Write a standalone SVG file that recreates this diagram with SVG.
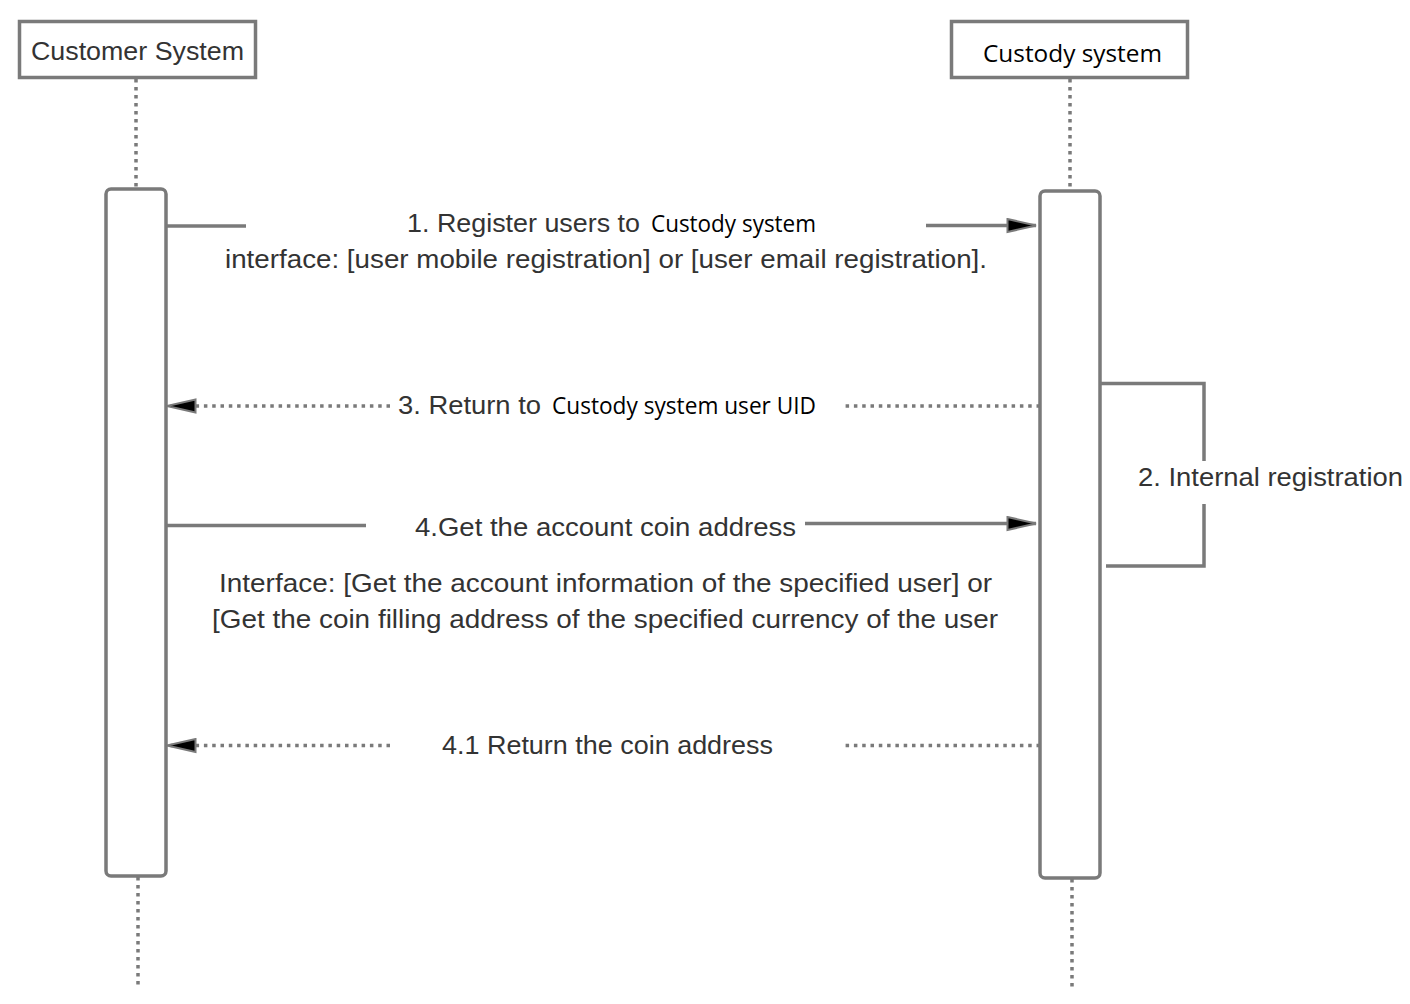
<svg xmlns="http://www.w3.org/2000/svg" width="1410" height="1004" viewBox="0 0 1410 1004">
<style>
.box{fill:#fff;stroke:#7a7a7a;stroke-width:3.5}
.act{fill:#fff;stroke:#7a7a7a;stroke-width:3.5}
.life{stroke:#7a7a7a;stroke-width:3.5;stroke-dasharray:3.5 4.5;fill:none}
.ln{stroke:#7a7a7a;stroke-width:3.5;fill:none}
.dot{stroke:#7a7a7a;stroke-width:3.5;stroke-dasharray:3.5 4.8;fill:none}
.t{font-family:"Liberation Sans",Arial,sans-serif;font-size:26px;fill:#333}
.s{font-family:"Open Sans","Noto Sans",sans-serif;font-size:23px;fill:#000}
</style>
<defs>
<marker id="ah" markerWidth="32" markerHeight="16" refX="30" refY="8" orient="auto" markerUnits="userSpaceOnUse">
<path d="M1.5,1.5 L30,8 L1.5,14.5 Z" fill="#000" stroke="#7a7a7a" stroke-width="2"/>
</marker>
</defs>
<g id="customer">
<rect class="box" x="19.5" y="21.5" width="236" height="56"/>
<text class="t" x="31" y="60" textLength="213" lengthAdjust="spacingAndGlyphs">Customer System</text>
<line class="life" x1="136" y1="79" x2="136" y2="188"/>
<rect class="act" x="106" y="189" width="60" height="687" rx="5"/>
<line class="life" x1="138" y1="877" x2="138" y2="986"/>
</g>
<g id="custody">
<rect class="box" x="951.5" y="21.5" width="236" height="56"/>
<text class="s" x="983" y="62" textLength="179" lengthAdjust="spacingAndGlyphs" style="font-size:24.5px">Custody system</text>
<line class="life" x1="1070" y1="79" x2="1070" y2="190"/>
<rect class="act" x="1040" y="191" width="60" height="687" rx="5"/>
<line class="life" x1="1072" y1="879" x2="1072" y2="987"/>
</g>
<g id="connectors">
<line class="ln" x1="166" y1="226" x2="246" y2="226"/>
<line class="ln" x1="926" y1="225.5" x2="1036" y2="225.5" marker-end="url(#ah)"/>
<line class="dot" x1="1040" y1="406" x2="845" y2="406"/>
<line class="dot" x1="390" y1="406" x2="167" y2="406" marker-end="url(#ah)"/>
<polyline class="ln" points="1100,383.5 1204,383.5 1204,461"/>
<polyline class="ln" points="1204,504 1204,566 1106,566"/>
<line class="ln" x1="166" y1="525.5" x2="366" y2="525.5"/>
<line class="ln" x1="805" y1="523.5" x2="1036" y2="523.5" marker-end="url(#ah)"/>
<line class="dot" x1="1040" y1="745.5" x2="845" y2="745.5"/>
<line class="dot" x1="390" y1="745.5" x2="167" y2="745.5" marker-end="url(#ah)"/>
</g>
<g id="labels">
<text class="t" x="407" y="232" textLength="233" lengthAdjust="spacingAndGlyphs">1. Register users to</text>
<text class="s" x="651" y="232" textLength="165" lengthAdjust="spacingAndGlyphs">Custody system</text>
<text class="t" x="225" y="268" textLength="762" lengthAdjust="spacingAndGlyphs">interface: [user mobile registration] or [user email registration].</text>
<text class="t" x="398" y="414" textLength="143" lengthAdjust="spacingAndGlyphs">3. Return to</text>
<text class="s" x="552" y="414" textLength="264" lengthAdjust="spacingAndGlyphs">Custody system user UID</text>
<text class="t" x="1138" y="486" textLength="265" lengthAdjust="spacingAndGlyphs">2. Internal registration</text>
<text class="t" x="415" y="536" textLength="381" lengthAdjust="spacingAndGlyphs">4.Get the account coin address</text>
<text class="t" x="219" y="592" textLength="773" lengthAdjust="spacingAndGlyphs">Interface: [Get the account information of the specified user] or</text>
<text class="t" x="212" y="628" textLength="786" lengthAdjust="spacingAndGlyphs">[Get the coin filling address of the specified currency of the user</text>
<text class="t" x="442" y="754" textLength="331" lengthAdjust="spacingAndGlyphs">4.1 Return the coin address</text>
</g>
</svg>
